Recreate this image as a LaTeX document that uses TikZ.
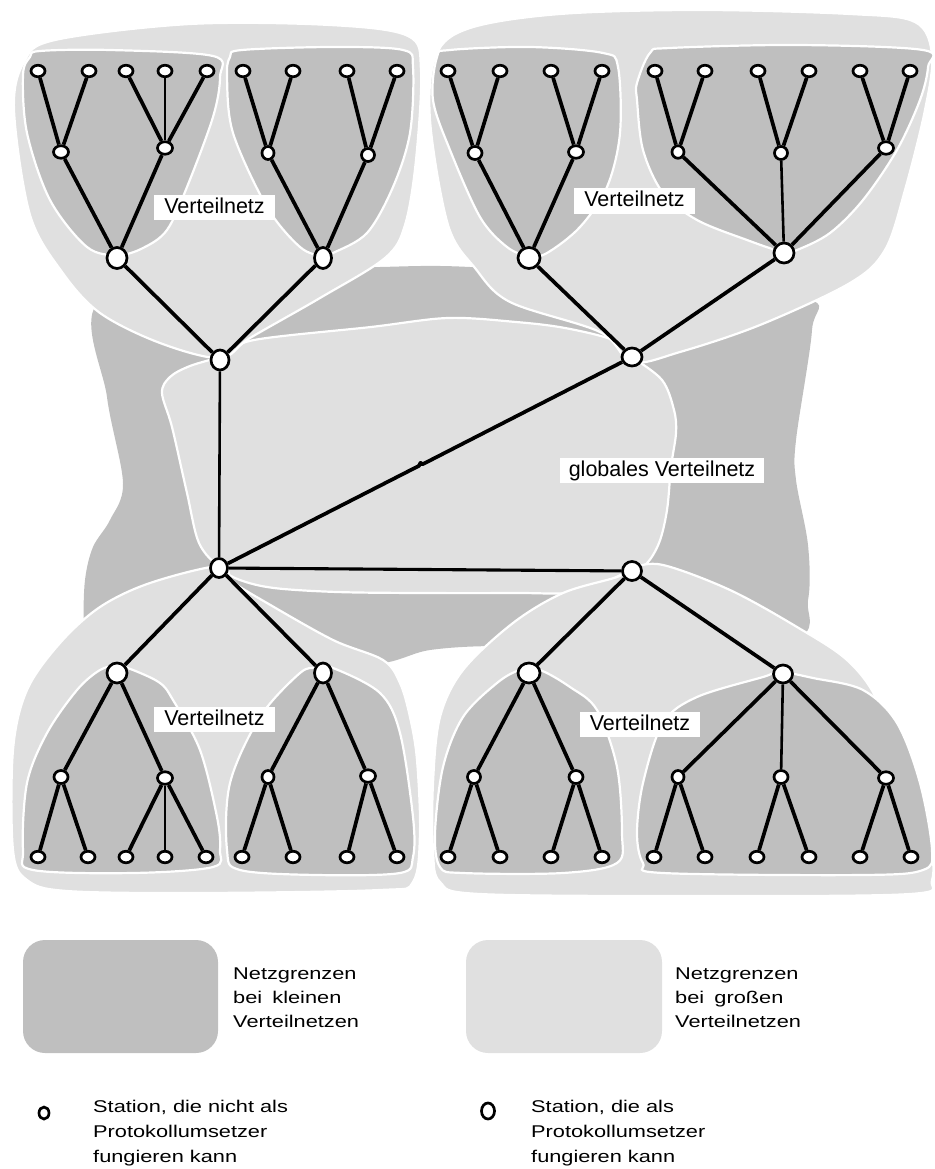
\documentclass[tikz,border=0pt]{standalone}
\usepackage{fontspec}
\setmainfont{Liberation Sans}
\newfontfamily\legendfont[FakeStretch=1.28]{Liberation Sans}
\usetikzlibrary{shapes.geometric}

\definecolor{netdark}{gray}{0.75}
\definecolor{netlight}{gray}{0.878}

\tikzset{
  station/.style={ellipse, draw=black, fill=white, line width=2.7pt, inner sep=0pt},
  stleaf/.style={station, minimum width=14pt, minimum height=11.5pt},
  stmid/.style={station, minimum width=15pt, minimum height=12.5pt},
  stgate/.style={station, minimum width=20pt, minimum height=21pt},
  stnarrow/.style={station, minimum width=17pt, minimum height=21pt},
  sthub/.style={station, minimum width=18pt, minimum height=20pt},
  link/.style={line width=3.7pt},
  thinlink/.style={line width=2.6pt},
  smallnet/.style={fill=netdark, draw=white, line width=2.2pt},
  bignet/.style={fill=netlight, draw=white, line width=2.2pt},
  tag/.style={fill=white, inner xsep=10pt, inner ysep=0pt, minimum height=25pt,
    text height=15pt, text depth=4pt, font=\fontsize{21.5}{25}\selectfont},
  legendline/.style={anchor=base west, inner sep=0pt, font=\legendfont\fontsize{17}{24}\selectfont},
  legendmark/.style={ellipse, draw=black, line width=2.7pt, inner sep=0pt},
  smooth region/.style={smooth cycle, tension=0.55}
}

\begin{document}
\begin{tikzpicture}[x=1pt,y=-1pt]
\useasboundingbox (0,0) rectangle (934,1169);

% ---------- network boundaries ----------
% global network, small boundary
\fill[netdark] plot[smooth region] coordinates {
  (100,300) (250,272) (380,267) (470,267) (640,280) (805,298) (812,330)
  (796,440) (796,480) (808,545) (808,600) (790,640) (600,650) (500,646)
  (430,650) (370,664) (250,650) (90,640) (84,623) (85,580) (93,547)
  (110,520) (123,483) (107,397)};
% global network, large boundary
\filldraw[bignet] plot[smooth region] coordinates {
  (225,355) (254,340) (371,327) (448,318) (516,322) (565,328) (613,340)
  (631,356) (662,380) (674,410) (676,433) (671,467) (667,510) (659,543)
  (645,565) (623,574) (579,592) (516,593) (419,593) (337,592) (274,588)
  (240,580) (220,568) (199,543) (187,493) (172,427) (162,393) (170,377)
  (190,366)};

% large boundaries of the four distribution networks
\filldraw[bignet] plot[smooth region] coordinates {
  (14,110) (24,62) (55,40) (190,24) (330,25) (408,36) (421,70) (416,160)
  (405,225) (385,258) (320,298) (250,338) (220,358) (160,343) (100,313)
  (62,272) (30,215)};
\filldraw[bignet] plot[smooth region] coordinates {
  (430,120) (436,55) (470,28) (560,14) (700,10) (850,14) (915,22) (932,55)
  (925,110) (905,190) (885,250) (850,283) (760,325) (680,352) (632,362)
  (600,332) (510,302) (475,268) (448,225)};
\filldraw[bignet] plot[smooth region] coordinates {
  (220,566) (150,583) (100,607) (60,643) (27,690) (13,750) (13,850)
  (27,880) (67,891) (200,893) (380,890) (413,882) (420,833) (417,760)
  (410,717) (400,683) (383,660) (333,640) (267,603) (233,582)};
\filldraw[bignet] plot[smooth region] coordinates {
  (632,568) (663,565) (730,590) (797,627) (847,660) (877,700) (897,767)
  (915,800) (930,840) (932,880) (910,894) (700,896) (480,894) (440,882)
  (433,850) (433,783) (440,717) (463,670) (513,623) (563,593) (617,577)};

% small boundaries
\filldraw[smallnet] plot[smooth region] coordinates {
  (30,57) (40,51) (110,50) (213,56) (220,77) (213,117) (187,187) (167,230)
  (143,248) (118,255) (87,247) (50,200) (27,133) (23,75)};
\filldraw[smallnet] plot[smooth region] coordinates {
  (230,57) (242,50) (333,47) (403,50) (413,67) (410,133) (393,187) (367,233)
  (333,253) (323,256) (300,247) (267,207) (233,133) (227,77)};
\filldraw[smallnet] plot[smooth region] coordinates {
  (437,57) (450,50) (530,47) (603,53) (618,67) (620,133) (607,187) (580,227)
  (547,253) (529,256) (507,247) (480,217) (450,150) (433,100)};
\filldraw[smallnet] plot[smooth region] coordinates {
  (637,83) (650,53) (670,48) (797,45) (923,50) (928,67) (920,100) (897,150)
  (863,200) (830,233) (797,250) (783,252) (747,240) (697,220) (663,193)
  (643,150) (637,100)};
\filldraw[smallnet] plot[smooth region] coordinates {
  (100,670) (117,666) (133,670) (160,683) (173,700) (200,750) (217,817)
  (220,850) (213,867) (133,873) (33,870) (23,850) (27,783) (47,733) (77,690)};
\filldraw[smallnet] plot[smooth region] coordinates {
  (300,673) (317,668) (333,668) (380,693) (400,733) (413,817) (413,857)
  (400,873) (317,875) (240,870) (227,850) (230,783) (260,717)};
\filldraw[smallnet] plot[smooth region] coordinates {
  (497,683) (520,670) (540,670) (570,687) (597,710) (617,767) (622,833)
  (617,863) (563,873) (463,873) (440,867) (435,833) (443,767) (463,717)};
\filldraw[smallnet] plot[smooth region] coordinates {
  (663,723) (697,697) (763,677) (780,672) (813,678) (863,690) (897,723)
  (920,783) (932,850) (923,870) (863,875) (663,873) (643,863) (637,833)
  (643,783)};

% ---------- stations ----------
% upper left tree
\node[sthub] (ph) at (220,360) {};
\node[stgate] (pg1) at (117,258) {};
\node[stnarrow] (pg2) at (323,258) {};
\node[stmid] (pm1) at (61,152) {};
\node[stmid] (pm2) at (165,148) {};
\node[stmid, minimum width=12pt, minimum height=13pt] (pm3) at (268,153) {};
\node[stmid, minimum width=13pt, minimum height=13pt] (pm4) at (368,155) {};
\foreach \n/\x in {p1/38,p2/89,p3/126,p4/165,p5/207,p6/243,p7/293,p8/347,p9/397}
  \node[stleaf] (\n) at (\x,71) {};
% upper right tree
\node[sthub, minimum width=20pt, minimum height=18pt] (qh) at (632,357) {};
\node[stgate, minimum width=22pt] (qg1) at (529,258) {};
\node[stgate, minimum height=20pt] (qg2) at (784,253) {};
\node[stmid, minimum width=14pt, minimum height=13pt] (qm1) at (475,153) {};
\node[stmid] (qm2) at (576,152) {};
\node[stmid, minimum width=12pt] (qm3) at (678,152) {};
\node[stmid, minimum width=13pt, minimum height=13pt] (qm4) at (781,153) {};
\node[stmid] (qm5) at (886,148) {};
\foreach \n/\x in {q1/448,q2/500,q3/551,q4/602,q5/655,q6/705,q7/758,q8/809,q9/860,q10/910}
  \node[stleaf] (\n) at (\x,71) {};
% lower left tree
\node[sthub, minimum width=17pt, minimum height=19pt] (rh) at (219,568) {};
\node[stgate, minimum height=20pt] (rg1) at (117,673) {};
\node[stnarrow, minimum height=20pt] (rg2) at (323,673) {};
\node[stmid, minimum width=14pt, minimum height=13pt] (rm1) at (61,777) {};
\node[stmid] (rm2) at (165,778) {};
\node[stmid, minimum width=12pt, minimum height=13pt] (rm3) at (268,777) {};
\node[stmid] (rm4) at (368,776) {};
\foreach \n/\x in {r1/38,r2/88,r3/126,r4/165,r5/206,r6/242,r7/293,r8/347,r9/397}
  \node[stleaf] (\n) at (\x,857) {};
% lower right tree
\node[sthub, minimum width=19pt, minimum height=19pt] (sh) at (632,571) {};
\node[stgate, minimum width=22pt, minimum height=20pt] (sg1) at (529,673) {};
\node[stgate, minimum width=19pt, minimum height=18pt] (sg2) at (783,674) {};
\node[stmid, minimum width=13pt, minimum height=13pt] (sm1) at (474,777) {};
\node[stmid, minimum width=14pt, minimum height=13pt] (sm2) at (576,777) {};
\node[stmid, minimum width=12pt, minimum height=13pt] (sm3) at (678,777) {};
\node[stmid, minimum width=14pt, minimum height=13pt] (sm4) at (781,777) {};
\node[stmid] (sm5) at (886,778) {};
\foreach \n/\x in {s1/448,s2/500,s3/551,s4/602,s5/654,s6/705,s7/757,s8/809,s9/860,s10/911}
  \node[stleaf] (\n) at (\x,857) {};

% ---------- links ----------
\foreach \a/\b in {p1/pm1,p2/pm1,p3/pm2,p5/pm2,p6/pm3,p7/pm3,p8/pm4,p9/pm4,
    pm1/pg1,pm2/pg1,pm3/pg2,pm4/pg2,pg1/ph,pg2/ph,
    q1/qm1,q2/qm1,q3/qm2,q4/qm2,q5/qm3,q6/qm3,q7/qm4,q8/qm4,q9/qm5,q10/qm5,
    qm1/qg1,qm2/qg1,qm3/qg2,qm5/qg2,qg1/qh,qg2/qh,
    rh/rg1,rh/rg2,rg1/rm1,rg1/rm2,rg2/rm3,rg2/rm4,rm1/r1,rm1/r2,rm2/r3,rm2/r5,
    rm3/r6,rm3/r7,rm4/r8,rm4/r9,
    sh/sg1,sh/sg2,sg1/sm1,sg1/sm2,sg2/sm3,sg2/sm5,sm1/s1,sm1/s2,sm2/s3,sm2/s4,
    sm3/s5,sm3/s6,sm4/s7,sm4/s8,sm5/s9,sm5/s10}
  \draw[link] (\a) -- (\b);
\foreach \a/\b in {p4/pm2,qm4/qg2,rm2/r4,sg2/sm4,ph/rh}
  \draw[thinlink] (\a) -- (\b);
\draw[line width=3.1pt] (rh) -- (sh);
% backbone link with its small joint
\coordinate (jA) at (419,465.8);
\coordinate (jB) at (420.5,462.8);
\coordinate (jC) at (422.5,464.3);
\draw[link, line join=round] (rh) -- (jA) -- (jB) -- (jC) -- (qh);

% ---------- labels ----------
\node[tag] (vA) at (214.5,207.5) {Verteilnetz};
\node[tag] (vB) at (634.5,201) {Verteilnetz};
\node[tag] (vC) at (214.5,719.5) {Verteilnetz};
\node[tag] (vD) at (640,724.5) {Verteilnetz};
\node[tag, inner xsep=9pt] (vG) at (662,470.5) {globales Verteilnetz};

% ---------- legend ----------
\fill[netdark, rounded corners=22pt] (23,940) rectangle (218,1053);
\fill[netlight, rounded corners=22pt] (466,940) rectangle (662,1053);
\node[legendline] (kA1) at (233,979) {Netzgrenzen};
\node[legendline] (kA2) at (233,1003) {bei\hspace{0.6em}kleinen};
\node[legendline] (kA3) at (233,1027) {Verteilnetzen};
\node[legendline] (kB1) at (675,979) {Netzgrenzen};
\node[legendline] (kB2) at (675,1003) {bei\hspace{0.6em}großen};
\node[legendline] (kB3) at (675,1027) {Verteilnetzen};

\node[legendmark, minimum width=10pt, minimum height=12pt] (oS) at (44,1113) {};
\node[legendmark, minimum width=13pt, minimum height=16pt] (oB) at (488,1111) {};
\node[legendline] (kC1) at (93,1112) {Station, die nicht als};
\node[legendline] (kC2) at (93,1137) {Protokollumsetzer};
\node[legendline] (kC3) at (93,1162) {fungieren kann};
\node[legendline] (kD1) at (531,1112) {Station, die als};
\node[legendline] (kD2) at (531,1137) {Protokollumsetzer};
\node[legendline] (kD3) at (531,1162) {fungieren kann};
\end{tikzpicture}
\end{document}
